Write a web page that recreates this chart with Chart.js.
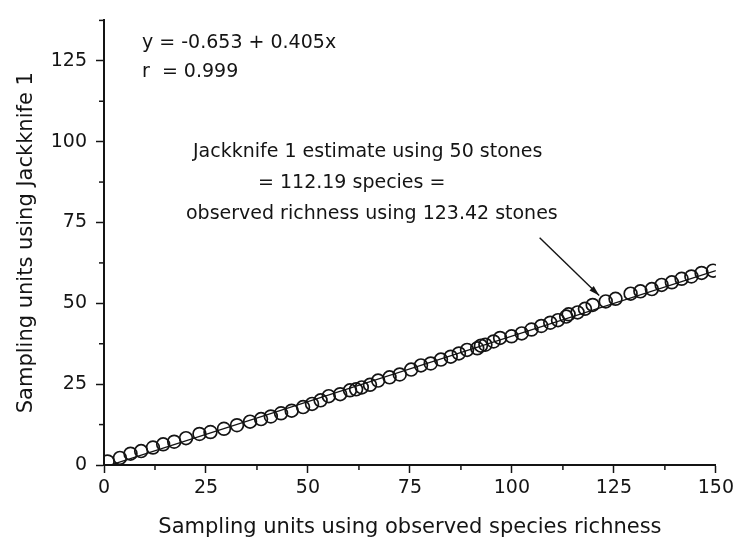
<!DOCTYPE html>
<html>
<head>
<meta charset="utf-8">
<script src="https://cdn.jsdelivr.net/npm/chart.js@4.4.1/dist/chart.umd.min.js"></script>
<style>
  html, body { margin: 0; padding: 0; background: #fff; }
  #wrap { width: 738px; height: 546px; position: relative; }
</style>
</head>
<body>
<div id="wrap"><canvas id="c" width="738" height="546"></canvas></div>
<script>
// Sampling units needed by observed richness (x) vs. Jackknife 1 (y)
const observedRichness = [
  0.9, 3.9, 6.5, 9.1, 12.0, 14.5, 17.2, 20.1, 23.4, 26.1,
  29.4, 32.6, 35.8, 38.5, 40.9, 43.4, 46.0, 48.8, 51.0, 53.1,
  55.1, 57.9, 60.3, 61.8, 63.2, 65.2, 67.2, 70.0, 72.5, 75.3,
  77.7, 80.1, 82.6, 85.0, 87.0, 89.0, 91.5, 92.4, 93.5, 95.5,
  97.1, 99.9, 102.4, 104.8, 107.2, 109.4, 111.3, 113.3, 113.9, 116.1,
  117.9, 119.8, 123.0, 125.4, 129.1, 131.5, 134.3, 136.7, 139.2, 141.6,
  144.0, 146.5, 149.3
];
const jackknifeUnits = [
  1.1, 2.2, 3.5, 4.3, 5.4, 6.4, 7.2, 8.3, 9.6, 10.2,
  11.2, 12.3, 13.4, 14.2, 15.0, 16.0, 16.8, 17.9, 18.9, 20.0,
  21.3, 21.9, 23.1, 23.4, 24.0, 24.8, 26.1, 27.1, 28.0, 29.5,
  30.8, 31.4, 32.6, 33.5, 34.5, 35.6, 36.1, 36.9, 37.2, 38.2,
  39.3, 39.8, 40.7, 41.9, 43.0, 44.0, 44.8, 45.9, 46.6, 47.2,
  48.3, 49.5, 50.6, 51.4, 53.0, 53.7, 54.4, 55.7, 56.5, 57.6,
  58.3, 59.4, 60.1
];

// Fitted regression: y = a + b x
const fitIntercept = -0.653;
const fitSlope = 0.405;

// Labelled (major) tick values; minor ticks fall half-way between
const xTickLabels = [0, 25, 50, 75, 100, 125, 150];
const yTickLabels = [0, 25, 50, 75, 100, 125];

const equationLines = ['y = -0.653 + 0.405x', 'r  = 0.999'];
const noteLines = [
  'Jackknife 1 estimate using 50 stones',
  '= 112.19 species =',
  'observed richness using 123.42 stones'
];

const INK = '#141414';
const FONT = "'DejaVu Sans', 'Liberation Sans', sans-serif";

const points = observedRichness.map((x, i) => ({ x: x, y: jackknifeUnits[i] }));
const fitLine = [0, 150].map(x => ({ x: x, y: fitIntercept + fitSlope * x }));

// Short unlabelled ticks at the half-way values
const minorTicks = {
  id: 'minorTicks',
  afterDraw(chart) {
    const ctx = chart.ctx;
    ctx.save();
    ctx.strokeStyle = INK;
    ctx.lineWidth = 1.5;
    const xs = chart.scales.x, ys = chart.scales.y;
    xs.ticks.forEach(t => {
      if (xTickLabels.includes(t.value)) return;
      const px = xs.getPixelForValue(t.value);
      ctx.beginPath();
      ctx.moveTo(px, xs.top);
      ctx.lineTo(px, xs.top + 5);
      ctx.stroke();
    });
    ys.ticks.forEach(t => {
      if (yTickLabels.includes(t.value)) return;
      const py = ys.getPixelForValue(t.value);
      ctx.beginPath();
      ctx.moveTo(ys.right, py);
      ctx.lineTo(ys.right - 5, py);
      ctx.stroke();
    });
    ctx.restore();
  }
};

// Equation, note text and the pointer arrow
const notes = {
  id: 'notes',
  afterDraw(chart) {
    const ctx = chart.ctx;
    const xs = chart.scales.x, ys = chart.scales.y;
    ctx.save();
    ctx.fillStyle = INK;
    ctx.font = '19px ' + FONT;
    ctx.textBaseline = 'middle';
    ctx.textAlign = 'left';
    equationLines.forEach((s, i) => ctx.fillText(s, 142, 43 + i * 29));
    const noteLeft = [193, 258, 186];
    noteLines.forEach((s, i) => ctx.fillText(s, noteLeft[i], 152 + i * 31));

    // arrow from below the note towards the matching point
    const x0 = xs.getPixelForValue(106.8), y0 = ys.getPixelForValue(70.3);
    const x1 = xs.getPixelForValue(121.4), y1 = ys.getPixelForValue(52.4);
    ctx.strokeStyle = INK;
    ctx.lineWidth = 1.4;
    ctx.beginPath();
    ctx.moveTo(x0, y0);
    ctx.lineTo(x1, y1);
    ctx.stroke();
    const ang = Math.atan2(y1 - y0, x1 - x0);
    const len = 11, spread = 0.28;
    ctx.beginPath();
    ctx.moveTo(x1, y1);
    ctx.lineTo(x1 - len * Math.cos(ang - spread), y1 - len * Math.sin(ang - spread));
    ctx.lineTo(x1 - len * Math.cos(ang + spread), y1 - len * Math.sin(ang + spread));
    ctx.closePath();
    ctx.fillStyle = INK;
    ctx.fill();
    ctx.restore();
  }
};

const majorTickColor = labels => c =>
  (c.tick && labels.includes(c.tick.value)) ? INK : 'rgba(0,0,0,0)';

new Chart(document.getElementById('c'), {
  data: {
    datasets: [
      {
        type: 'line',
        data: fitLine,
        borderColor: INK,
        borderWidth: 1.3,
        pointRadius: 0,
        fill: false
      },
      {
        type: 'scatter',
        data: points,
        pointStyle: 'circle',
        pointRadius: 6.4,
        borderWidth: 1.7,
        borderColor: INK,
        backgroundColor: 'rgba(0,0,0,0)'
      }
    ]
  },
  options: {
    responsive: false,
    animation: false,
    devicePixelRatio: 1,
    layout: { padding: { top: 13, right: 19, left: 0, bottom: 0 } },
    plugins: { legend: { display: false }, tooltip: { enabled: false } },
    scales: {
      x: {
        type: 'linear',
        min: 0, max: 150,
        afterFit: s => { s.height = 81; },
        border: { display: true, color: INK, width: 2 },
        grid: {
          drawOnChartArea: false, drawTicks: true, tickLength: 8,
          tickWidth: 1.5, tickColor: majorTickColor(xTickLabels)
        },
        ticks: {
          stepSize: 12.5, autoSkip: false, maxRotation: 0, padding: 4,
          color: INK, font: { family: FONT, size: 19 },
          callback: v => xTickLabels.includes(v) ? String(v) : ''
        },
        title: {
          display: true, text: 'Sampling units using observed species richness',
          color: INK, font: { family: FONT, size: 21 },
          padding: { top: 0, bottom: 6 }
        }
      },
      y: {
        type: 'linear',
        min: 0, max: 137.5,
        afterFit: s => { s.width = 104; },
        border: { display: true, color: INK, width: 2 },
        grid: {
          drawOnChartArea: false, drawTicks: true, tickLength: 8,
          tickWidth: 1.5, tickColor: majorTickColor(yTickLabels)
        },
        ticks: {
          stepSize: 12.5, autoSkip: false, padding: 9,
          color: INK, font: { family: FONT, size: 19 },
          callback: v => yTickLabels.includes(v) ? String(v) : ''
        },
        title: {
          display: true, text: 'Sampling units using Jackknife 1',
          color: INK, font: { family: FONT, size: 21 },
          padding: { top: 14, bottom: 0 }
        }
      }
    }
  },
  plugins: [minorTicks, notes]
});
</script>
</body>
</html>
